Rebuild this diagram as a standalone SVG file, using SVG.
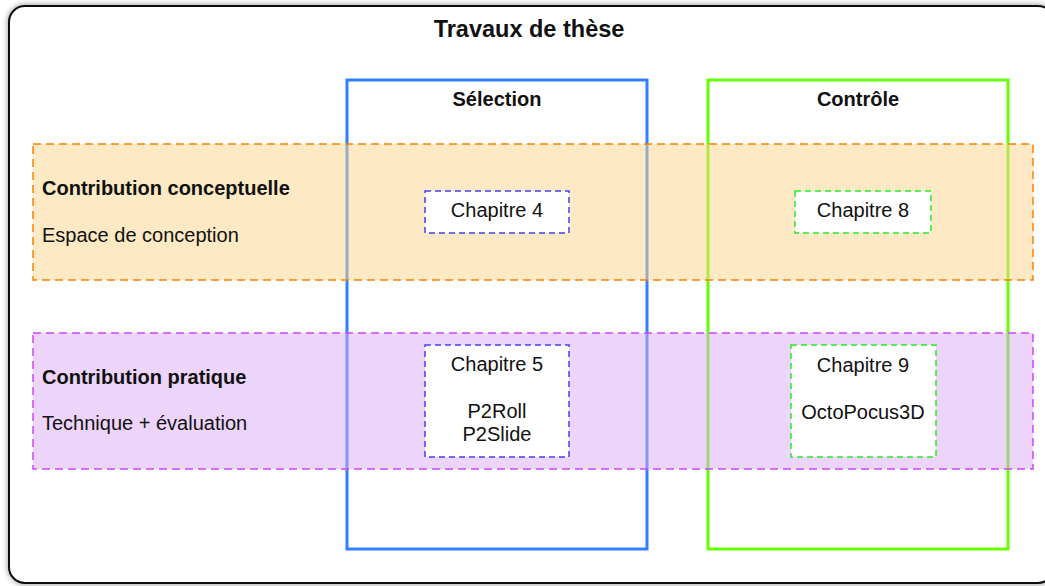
<svg xmlns="http://www.w3.org/2000/svg" width="1045" height="586" viewBox="0 0 1045 586">
<defs>
<filter id="sh" x="-5%" y="-5%" width="110%" height="110%">
<feGaussianBlur in="SourceAlpha" stdDeviation="3"/>
<feComponentTransfer><feFuncA type="linear" slope="0.45"/></feComponentTransfer>
<feMerge><feMergeNode/><feMergeNode in="SourceGraphic"/></feMerge>
</filter>
</defs>
<style>
text{font-family:"Liberation Sans",Arial,Helvetica,sans-serif;fill:#111;font-size:20px}
.b{font-weight:bold}
.c{text-anchor:middle}
.col{fill:none;stroke-width:3}
.band{stroke-width:1.5;stroke-dasharray:8 5;fill-opacity:0.5}
.ch{fill:#fff;stroke-width:1.5;stroke-dasharray:6 4}
</style>
<g id="frame">
<rect x="9" y="6" width="1045" height="577" rx="16" ry="16" fill="#fff" stroke="#111" stroke-width="2" filter="url(#sh)"/>
<text class="b c" x="529" y="37" style="font-size:23.5px">Travaux de thèse</text>
</g>
<g id="col-selection">
<rect class="col" x="347" y="80" width="300" height="469" stroke="#3380ff"/>
<text class="b c" x="497" y="106">Sélection</text>
</g>
<g id="col-controle">
<rect class="col" x="708" y="80" width="300" height="469" stroke="#66ff00"/>
<text class="b c" x="858" y="106">Contrôle</text>
</g>
<g id="band-conceptuelle">
<rect class="band" x="33" y="144" width="1000" height="136" fill="#fcd68c" stroke="#ff8000"/>
<text class="b" x="42" y="195">Contribution conceptuelle</text>
<text x="42" y="242">Espace de conception</text>
</g>
<g id="band-pratique">
<rect class="band" x="33" y="333" width="1000" height="136" fill="#dba9f5" stroke="#cc44ff"/>
<text class="b" x="42" y="384">Contribution pratique</text>
<text x="42" y="430">Technique + évaluation</text>
</g>
<g id="ch4">
<rect class="ch" x="425" y="191" width="144" height="42" stroke="#4040ff"/>
<text class="c" x="497" y="217">Chapitre 4</text>
</g>
<g id="ch8">
<rect class="ch" x="795" y="191" width="136" height="42" stroke="#22ee22"/>
<text class="c" x="863" y="217">Chapitre 8</text>
</g>
<g id="ch5">
<rect class="ch" x="425" y="345" width="144" height="112" stroke="#4040ff"/>
<text class="c" x="497" y="371">Chapitre 5</text>
<text class="c" x="497" y="418">P2Roll</text>
<text class="c" x="497" y="441">P2Slide</text>
</g>
<g id="ch9">
<rect class="ch" x="791" y="345" width="145" height="112" stroke="#22ee22"/>
<text class="c" x="863" y="372">Chapitre 9</text>
<text class="c" x="863" y="419">OctoPocus3D</text>
</g>
<g id="connectors"/>
</svg>
